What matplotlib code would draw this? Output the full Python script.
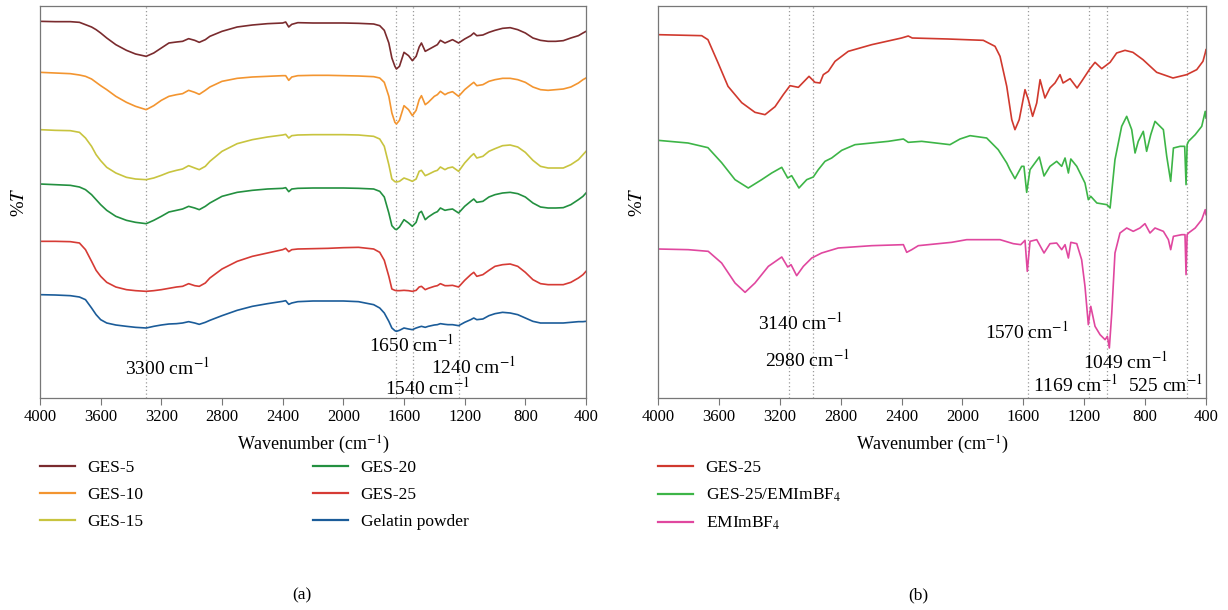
import matplotlib
matplotlib.use('Agg')
import matplotlib.pyplot as plt
from matplotlib.lines import Line2D

plt.rcParams['font.family'] = ['Liberation Serif', 'DejaVu Serif']
plt.rcParams['mathtext.fontset'] = 'stix'

# ---- panel (a): gelatin films, common wavenumber grid (cm-1)
wn_a = [4000, 3900, 3800, 3740, 3700, 3660, 3630, 3600, 3560, 3500,
        3430, 3370, 3300, 3250, 3200, 3150, 3100, 3060, 3020, 2980,
        2950, 2910, 2880, 2800, 2700, 2600, 2500, 2400, 2380, 2360,
        2340, 2300, 2200, 2100, 2000, 1900, 1800, 1760, 1730, 1700,
        1680, 1660, 1650, 1630, 1600, 1570, 1545, 1520, 1500, 1485,
        1460, 1440, 1400, 1380, 1360, 1330, 1310, 1280, 1240, 1200,
        1160, 1140, 1120, 1080, 1040, 1000, 950, 900, 850, 800,
        750, 700, 650, 600, 550, 500, 450, 420, 400]

ges5 = [113.0, 112.9, 112.9, 112.7, 112.0, 111.3, 110.5, 109.5, 108.0, 106.0,
        104.3, 103.2, 102.5, 103.5, 105.0, 106.5, 106.8, 107.0, 107.8, 107.3,
        106.7, 107.5, 108.5, 110.0, 111.3, 111.9, 112.3, 112.5, 112.8, 111.3,
        112.1, 112.6, 112.5, 112.5, 112.5, 112.4, 112.2, 111.7, 110.3, 106.5,
        102.0, 99.5, 98.7, 99.5, 103.7, 102.7, 101.2, 102.5, 105.3, 106.5,
        104.0, 104.5, 105.5, 106.0, 107.3, 106.5, 106.9, 107.5, 106.5, 107.7,
        108.7, 109.5, 108.7, 108.9, 109.7, 110.3, 110.9, 111.1, 110.5, 109.5,
        108.0, 107.3, 107.0, 107.0, 107.2, 108.0, 108.7, 109.5, 110.0]
ges10 = [97.7, 97.5, 97.3, 96.9, 96.5, 95.7, 94.7, 93.7, 92.5, 90.5,
         88.7, 87.5, 86.5, 87.7, 89.3, 90.5, 91.0, 91.3, 92.3, 91.7,
         91.1, 92.3, 93.3, 95.0, 95.9, 96.3, 96.5, 96.7, 96.7, 95.3,
         96.3, 96.7, 96.8, 96.8, 96.7, 96.6, 96.4, 96.0, 94.7, 90.5,
         85.5, 82.7, 82.2, 83.3, 87.7, 86.5, 84.7, 86.3, 89.5, 90.7,
         88.0, 88.7, 90.5, 91.0, 92.0, 91.0, 91.5, 91.9, 90.5, 92.5,
         94.0, 94.7, 93.7, 94.0, 95.0, 95.5, 95.9, 95.9, 95.5, 94.7,
         93.3, 92.5, 92.3, 92.5, 92.7, 93.3, 94.5, 95.5, 96.0]
ges15 = [80.5, 80.3, 80.2, 79.7, 78.0, 75.5, 73.0, 71.2, 69.2, 67.5,
         66.2, 65.7, 65.5, 66.0, 66.8, 67.7, 68.3, 68.7, 69.7, 69.0,
         68.5, 69.5, 71.0, 74.0, 76.3, 77.5, 78.3, 78.9, 79.1, 78.0,
         78.7, 78.9, 79.0, 79.0, 79.0, 78.9, 78.5, 77.7, 75.5, 70.0,
         65.7, 64.9, 64.8, 65.0, 66.0, 65.5, 65.0, 65.7, 68.0, 68.3,
         66.7, 67.1, 68.0, 68.3, 69.3, 68.5, 69.0, 69.3, 68.0, 70.5,
         72.5, 73.3, 72.0, 72.5, 74.0, 74.8, 75.7, 75.9, 75.3, 73.7,
         71.3, 69.5, 69.0, 69.0, 69.0, 70.0, 71.5, 73.0, 74.0]
ges20 = [64.2, 64.0, 63.8, 63.3, 62.5, 61.0, 59.5, 58.0, 56.3, 54.5,
         53.3, 52.7, 52.3, 53.3, 54.5, 55.8, 56.3, 56.7, 57.5, 57.0,
         56.5, 57.5, 58.5, 60.5, 61.7, 62.3, 62.7, 62.9, 63.1, 61.9,
         62.7, 62.9, 63.0, 63.0, 63.0, 62.9, 62.7, 62.0, 60.3, 55.5,
         51.7, 50.7, 50.5, 51.3, 53.5, 52.5, 51.5, 52.7, 55.5, 56.0,
         53.5, 54.3, 55.5, 55.9, 57.0, 56.3, 56.5, 56.7, 55.5, 57.5,
         59.0, 59.7, 58.7, 59.0, 60.3, 61.0, 61.5, 61.7, 61.3, 60.3,
         58.5, 57.3, 57.0, 57.0, 57.1, 58.0, 59.5, 60.5, 61.5]
ges25 = [47.0, 47.0, 46.9, 46.5, 44.5, 41.0, 38.3, 36.5, 34.7, 33.3,
         32.5, 32.2, 32.0, 32.2, 32.5, 32.9, 33.3, 33.5, 34.3, 33.7,
         33.5, 34.5, 36.0, 38.7, 41.0, 42.5, 43.5, 44.5, 44.9, 43.9,
         44.5, 44.7, 44.8, 44.9, 45.1, 45.2, 44.7, 43.7, 41.3, 36.5,
         32.7, 32.3, 32.2, 32.2, 32.3, 32.2, 32.0, 32.3, 33.3, 33.5,
         32.5, 32.9, 33.5, 33.7, 34.3, 33.7, 33.7, 33.8, 33.3, 35.3,
         37.0, 37.7, 36.5, 37.0, 38.3, 39.5, 40.0, 40.2, 39.5, 37.7,
         35.5, 34.3, 34.0, 34.0, 34.0, 34.7, 36.0, 37.0, 38.0]
gelatin = [31.0, 30.9, 30.7, 30.3, 29.5, 27.0, 25.0, 23.5, 22.5, 21.9,
           21.5, 21.2, 21.0, 21.5, 21.9, 22.2, 22.3, 22.5, 22.9, 22.5,
           22.1, 22.7, 23.3, 24.7, 26.3, 27.5, 28.3, 29.0, 29.2, 28.1,
           28.5, 28.9, 29.1, 29.1, 29.1, 28.9, 28.0, 27.0, 25.5, 23.0,
           21.0, 20.2, 20.0, 20.3, 21.0, 20.7, 20.5, 21.0, 21.3, 21.5,
           21.2, 21.5, 21.9, 22.0, 22.3, 22.1, 22.0, 22.0, 21.7, 22.7,
           23.5, 24.0, 23.5, 23.7, 24.7, 25.3, 25.7, 25.5, 25.0, 24.0,
           23.0, 22.5, 22.5, 22.5, 22.5, 22.7, 22.9, 22.9, 23.0]

labels_a = ['GES-5', 'GES-10', 'GES-15', 'GES-20', 'GES-25', 'Gelatin powder']
colors_a = ['#7a2b2e', '#f39530', '#c8c43f', '#239040', '#d63b35', '#1b5c99']
peaks_a = [3300, 1650, 1540, 1240]

# ---- panel (b)
wn_red = [4000, 3713, 3672, 3606, 3540, 3450, 3363, 3297, 3231, 3177,
          3133, 3078, 3008, 2969, 2936, 2914, 2881, 2837, 2750, 2596,
          2400, 2356, 2330, 2095, 1863, 1786, 1753, 1709, 1676, 1655,
          1627, 1589, 1567, 1539, 1512, 1490, 1458, 1425, 1392, 1359,
          1339, 1293, 1247, 1217, 1162, 1129, 1085, 1030, 987, 932,
          880, 814, 724, 617, 527, 461, 420, 405, 400]
t_red = [109.0, 108.7, 107.5, 100.6, 93.5, 88.6, 85.7, 85.0, 87.4, 91.0,
         93.7, 93.2, 96.5, 94.7, 94.5, 97.0, 98.0, 101.0, 104.0, 106.0,
         108.0, 108.6, 108.0, 107.7, 107.3, 105.5, 102.5, 93.5, 83.5, 80.5,
         83.5, 92.5, 89.5, 84.5, 88.5, 95.5, 90.0, 93.0, 94.5, 97.0,
         94.5, 95.8, 93.0, 95.0, 98.8, 100.7, 98.8, 100.7, 103.5, 104.3,
         103.7, 101.5, 97.7, 96.0, 97.0, 98.5, 101.0, 103.5, 104.5]

wn_green = [4000, 3803, 3672, 3582, 3494, 3407, 3319, 3253, 3187, 3148,
            3122, 3074, 3023, 2980, 2947, 2903, 2859, 2793, 2706, 2487,
            2388, 2356, 2268, 2082, 2016, 1950, 1841, 1765, 1709, 1688,
            1655, 1611, 1596, 1578, 1556, 1495, 1464, 1425, 1381, 1348,
            1326, 1304, 1288, 1249, 1195, 1173, 1157, 1117, 1051, 1030,
            998, 954, 921, 888, 866, 845, 812, 790, 763, 735,
            702, 680, 658, 632, 614, 570, 540, 531, 524, 515,
            471, 428, 405, 400]
t_green = [77.3, 76.5, 75.1, 70.6, 65.5, 63.0, 65.5, 67.5, 69.2, 66.0,
           66.7, 63.0, 65.5, 66.3, 68.5, 71.0, 72.0, 74.3, 76.0, 77.0,
           77.7, 76.7, 77.0, 76.0, 77.7, 78.7, 78.0, 74.5, 70.5, 68.5,
           65.8, 69.5, 69.5, 61.7, 68.5, 72.3, 66.6, 69.5, 71.0, 69.5,
           72.0, 67.5, 71.7, 69.5, 64.5, 59.5, 60.5, 58.5, 58.0, 57.0,
           71.5, 81.5, 84.5, 80.5, 73.5, 77.0, 80.0, 74.0, 79.0, 83.0,
           81.5, 80.5, 72.5, 65.0, 75.0, 75.5, 75.5, 64.0, 76.0, 77.0,
           79.0, 81.5, 86.0, 84.0]

wn_pink = [4000, 3801, 3670, 3582, 3494, 3428, 3363, 3275, 3187, 3148,
           3126, 3089, 3045, 2990, 2925, 2816, 2596, 2388, 2366, 2333,
           2290, 2071, 1972, 1753, 1666, 1617, 1589, 1574, 1556, 1512,
           1464, 1425, 1381, 1348, 1326, 1304, 1288, 1249, 1217, 1195,
           1173, 1157, 1129, 1096, 1063, 1048, 1035, 1019, 998, 965,
           921, 878, 834, 801, 768, 735, 680, 647, 632, 614,
           559, 538, 531, 524, 515, 471, 428, 405, 400]
t_pink = [44.7, 44.5, 44.0, 40.5, 34.5, 31.7, 34.5, 39.5, 42.3, 39.3,
          40.0, 36.7, 39.5, 42.0, 43.5, 45.0, 45.7, 46.0, 43.7, 44.5,
          45.7, 46.7, 47.5, 47.5, 46.3, 46.0, 47.3, 38.0, 47.0, 47.5,
          43.5, 46.3, 46.5, 44.5, 46.0, 42.0, 46.7, 46.3, 41.5, 33.5,
          22.0, 27.5, 21.5, 19.0, 17.5, 18.5, 15.0, 25.5, 43.5, 49.5,
          51.0, 50.0, 51.0, 52.3, 49.5, 51.0, 50.0, 47.5, 44.5, 48.5,
          49.0, 49.0, 37.0, 49.0, 49.5, 51.0, 53.5, 56.5, 55.0]

labels_b = ['GES-25', 'GES-25/EMImBF$_4$', 'EMImBF$_4$']
colors_b = ['#d0392e', '#3db547', '#e0479f']
peaks_b = [3140, 2980, 1570, 1169, 1049, 525]

W, H = 1228, 610
fig = plt.figure(figsize=(W / 100, H / 100), dpi=100)
ax_a = fig.add_axes([40 / W, 1 - 398 / H, 546 / W, 392 / H])
ax_b = fig.add_axes([658 / W, 1 - 398 / H, 548 / W, 392 / H])

series_a = [ges5, ges10, ges15, ges20, ges25, gelatin]
for vals, c in zip(series_a, colors_a):
    ax_a.plot(wn_a, vals, color=c, lw=1.2)

series_b = [(wn_red, t_red), (wn_green, t_green), (wn_pink, t_pink)]
for (x, y), c in zip(series_b, colors_b):
    ax_b.plot(x, y, color=c, lw=1.2)

for ax, peaks in [(ax_a, peaks_a), (ax_b, peaks_b)]:
    for p in peaks:
        ax.axvline(p, color='#9a9a9a', lw=0.9, ls=(0, (1, 2)), zorder=0)
    ax.set_xlim(4000, 400)
    ax.set_ylim(0, 117.6)
    ax.set_xticks(range(4000, 399, -400))
    ax.set_yticks([])
    ax.tick_params(axis='x', direction='out', length=5, width=0.8,
                   color='#777777', labelsize=12, pad=3)
    for s in ax.spines.values():
        s.set_color('#777777')
        s.set_linewidth(0.9)
    ax.set_xlabel('Wavenumber (cm$^{-1}$)', fontsize=13, labelpad=6)
    ax.set_ylabel('%$T$', fontsize=13.5, labelpad=9)

# peak annotations
ann_kw = dict(ha='center', va='center', fontsize=14)
ax_a.text(3163, 9.1, '3300 cm$^{-1}$', **ann_kw)
ax_a.text(1554, 16.0, '1650 cm$^{-1}$', **ann_kw)
ax_a.text(1142, 9.4, '1240 cm$^{-1}$', **ann_kw)
ax_a.text(1445, 3.1, '1540 cm$^{-1}$', **ann_kw)

ax_b.text(3064, 22.6, '3140 cm$^{-1}$', **ann_kw)
ax_b.text(3018, 11.5, '2980 cm$^{-1}$', **ann_kw)
ax_b.text(1579, 19.9, '1570 cm$^{-1}$', **ann_kw)
ax_b.text(929, 10.9, '1049 cm$^{-1}$', **ann_kw)
ax_b.text(1261, 4.0, '1169 cm$^{-1}$', **ann_kw)
ax_b.text(666, 4.0, '525 cm$^{-1}$', **ann_kw)

# legends
leg_kw = dict(loc='upper left', frameon=False, borderpad=0, borderaxespad=0,
              handlelength=2.0, handletextpad=0.75, labelspacing=0.62,
              fontsize=12.5)
h_a = [Line2D([], [], color=c, lw=1.6) for c in colors_a]
fig.legend(h_a[:3], labels_a[:3], bbox_to_anchor=(40 / W, 1 - 460 / H), **leg_kw)
fig.legend(h_a[3:], labels_a[3:], bbox_to_anchor=(313 / W, 1 - 460 / H), **leg_kw)
h_b = [Line2D([], [], color=c, lw=1.6) for c in colors_b]
fig.legend(h_b, labels_b, bbox_to_anchor=(658 / W, 1 - 460 / H), **leg_kw)

fig.text(302 / W, 1 - 595 / H, '(a)', ha='center', va='center', fontsize=12.5)
fig.text(918 / W, 1 - 595 / H, '(b)', ha='center', va='center', fontsize=12.5)

fig.savefig('out.png', dpi=100)
